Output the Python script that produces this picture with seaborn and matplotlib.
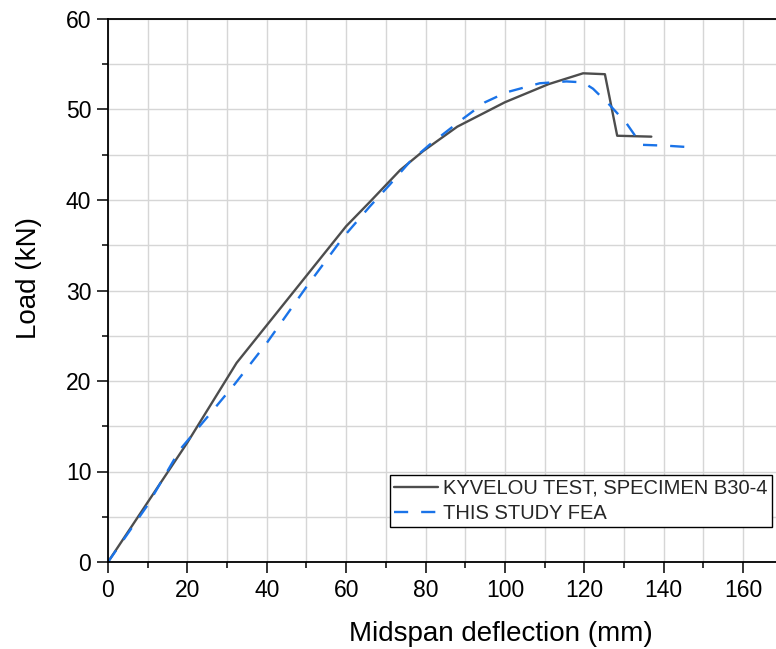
import matplotlib
matplotlib.use("Agg")
import matplotlib.pyplot as plt
from matplotlib.ticker import MultipleLocator
import seaborn as sns
import pandas as pd

test_x = [0, 20, 32.4, 60, 66, 73.6, 79.4, 88, 100, 111, 119.7, 125.2, 128.3, 136.9]
test_y = [0, 13.2, 22.0, 37.1, 39.8, 43.3, 45.4, 48.1, 50.8, 52.8, 54.0, 53.9, 47.1, 47.0]
fea_x = [0, 10, 18.1, 25, 32, 40, 50, 59.3, 66, 71, 76, 81, 89.5, 95, 100.4, 108.8,
         115.5, 119.7, 122.2, 126.4, 130.6, 134.4, 140.7, 147.9]
fea_y = [0, 6.3, 12.4, 16.0, 19.7, 24.2, 30.4, 35.9, 39.3, 41.7, 44.2, 46.1, 49.0, 50.8,
         51.9, 52.9, 53.1, 53.0, 52.3, 50.5, 48.5, 46.1, 46.0, 45.8]
labels = ["KYVELOU TEST, SPECIMEN B30-4", "THIS STUDY FEA"]

df = pd.concat([
    pd.DataFrame({"x": test_x, "y": test_y, "series": labels[0]}),
    pd.DataFrame({"x": fea_x, "y": fea_y, "series": labels[1]}),
])

sns.set_theme(style="white")
plt.rcParams["font.family"] = ["Liberation Sans", "DejaVu Sans"]

fig = plt.figure(figsize=(7.76, 6.49), dpi=100)
ax = fig.add_axes([108 / 776, 87 / 649, (782.7 - 108) / 776, 543 / 649])

sns.lineplot(data=df, x="x", y="y", hue="series", style="series",
             palette={labels[0]: "#4d4d4d", labels[1]: "#1a73e8"},
             dashes={labels[0]: "", labels[1]: (6, 5.5)},
             linewidth=1.7, sort=False, estimator=None, ax=ax)

ax.set_xlim(0, 170)
ax.set_ylim(0, 60)
ax.xaxis.set_major_locator(MultipleLocator(20))
ax.xaxis.set_minor_locator(MultipleLocator(10))
ax.yaxis.set_major_locator(MultipleLocator(10))
ax.yaxis.set_minor_locator(MultipleLocator(5))
ax.grid(True, which="both", color="#d6d6d6", linewidth=1.0)
ax.set_axisbelow(True)
ax.tick_params(which="major", direction="out", length=8, width=1.1, color="black",
               labelsize=16.5, labelcolor="black", pad=4,
               bottom=True, left=True, top=False, right=False)
ax.tick_params(which="minor", direction="out", length=4.5, width=1.1, color="black",
               bottom=True, left=True, top=False, right=False)
for s in ["left", "bottom", "top"]:
    ax.spines[s].set_color("black")
    ax.spines[s].set_linewidth(1.3)
ax.spines["right"].set_visible(False)

ax.set_xlabel("Midspan deflection (mm)", fontsize=20, color="black")
ax.set_ylabel("Load (kN)", fontsize=20, color="black")
ax.xaxis.set_label_coords(0.5825, -0.108)
ax.yaxis.set_label_coords(-0.098, 0.523)

leg = ax.legend(loc="lower left", bbox_to_anchor=(0.418, 0.0645), fontsize=14.5,
                frameon=True, fancybox=False, framealpha=1, edgecolor="black",
                borderpad=0.2, labelspacing=0.3, handlelength=2.2, handletextpad=0.25,
                borderaxespad=0)
leg.get_frame().set_linewidth(1.0)

fig.savefig("out.png", dpi=100)
